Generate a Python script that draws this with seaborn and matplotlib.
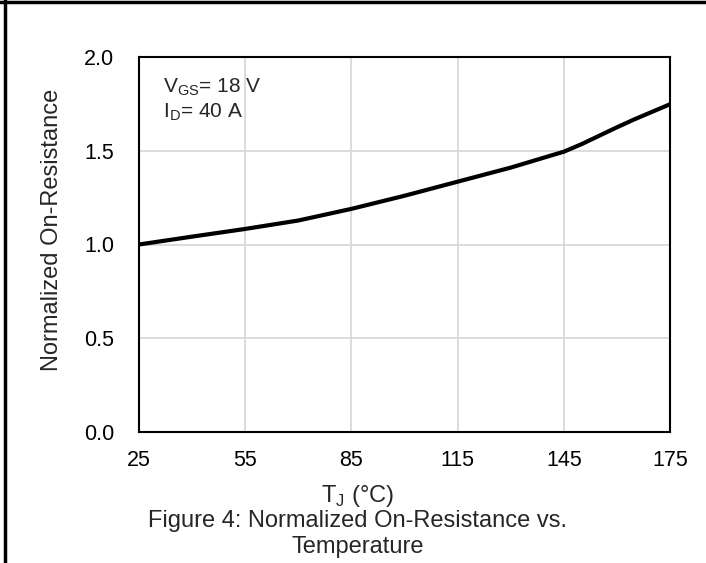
import pandas as pd
import matplotlib.pyplot as plt
import seaborn as sns
from matplotlib.lines import Line2D

# Values
temps = [25, 40, 55, 70, 85, 100, 115, 130, 145, 150, 155, 160, 165, 170, 175]
rds_norm = [1.00, 1.042, 1.083, 1.128, 1.19, 1.26, 1.335, 1.41, 1.495,
            1.535, 1.58, 1.625, 1.668, 1.708, 1.748]
x_ticks = [25, 55, 85, 115, 145, 175]
y_ticks = [0.0, 0.5, 1.0, 1.5, 2.0]

sns.set_theme(style="whitegrid")
plt.rcParams['font.family'] = ['Liberation Sans', 'DejaVu Sans']
plt.rcParams['mathtext.fontset'] = 'custom'
plt.rcParams['mathtext.rm'] = 'Liberation Sans'

df = pd.DataFrame({"T": temps, "R": rds_norm})

W, H = 706, 563
fig = plt.figure(figsize=(W / 100, H / 100), dpi=100)
ax = fig.add_axes([139 / W, 1 - 432 / H, 531 / W, 375 / H])

sns.lineplot(data=df, x="T", y="R", color="black", linewidth=3.0, ax=ax)

ax.set_xlim(25, 175)
ax.set_ylim(0, 2.0)
ax.set_xticks(x_ticks)
ax.set_yticks(y_ticks)
ax.set_yticklabels([f"{v:.1f}" for v in y_ticks])
ax.tick_params(axis='both', labelsize=15.5, colors='black', length=0)
ax.tick_params(axis='x', pad=13)
ax.tick_params(axis='y', pad=18)
ax.grid(True, color='#d9d9d9', linewidth=1.3)
for s in ax.spines.values():
    s.set_color('black')
    s.set_linewidth(1.5)
ax.set_xlabel("")
ax.set_ylabel("")

ax.text(24 / 531, (432 - 92) / 375, r"V$_{\mathrm{GS}}$= 18 V", transform=ax.transAxes,
        fontsize=15, va='baseline')
ax.text(24 / 531, (432 - 117) / 375, r"I$_{\mathrm{D}}$= 40 A", transform=ax.transAxes,
        fontsize=15, va='baseline')

fig.text(52 / W, 1 - 230 / H, "Normalized On-Resistance", rotation=90, fontsize=17,
         ha='center', va='center')
fig.text(358 / W, 1 - 502 / H, r"T$_{\mathrm{J}}$ (°C)", fontsize=17, ha='center', va='baseline')
fig.text(358 / W, 1 - 527 / H, "Figure 4: Normalized On-Resistance vs.", fontsize=17,
         ha='center', va='baseline')
fig.text(358 / W, 1 - 553 / H, "Temperature", fontsize=17, ha='center', va='baseline')

# page frame lines (top and left)
fig.add_artist(Line2D([0, 1], [0.997, 0.997], transform=fig.transFigure, color='black', linewidth=2.5))
fig.add_artist(Line2D([0.0065, 0.0065], [0, 1], transform=fig.transFigure, color='black', linewidth=2.5))

fig.savefig("out.png", dpi=100)
